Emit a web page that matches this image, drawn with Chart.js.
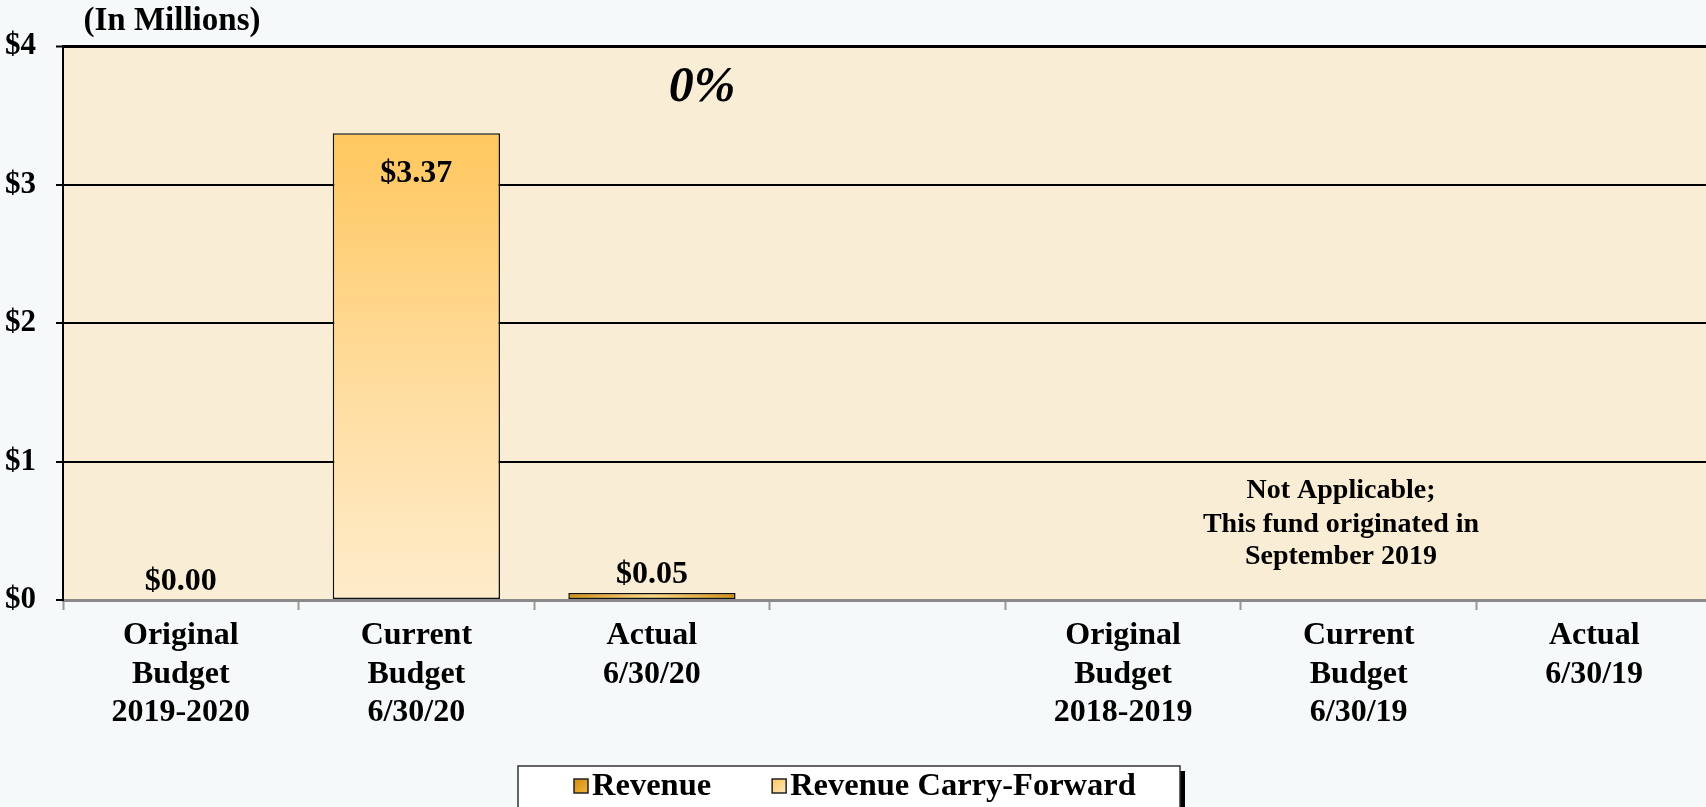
<!DOCTYPE html>
<html><head><meta charset="utf-8">
<script src="https://cdn.jsdelivr.net/npm/chart.js@4"></script>
<style>
html,body{margin:0;padding:0;background:#F5F9FA;overflow:hidden;width:1706px;height:807px;}
#wrap{position:absolute;left:0;top:0;width:1712px;height:807px;}
</style></head><body>
<div id="wrap"><canvas id="c" width="1712" height="807"></canvas></div>
<script>
const categories = [["Original","Budget","2019-2020"],["Current","Budget","6/30/20"],["Actual","6/30/20"],"",["Original","Budget","2018-2019"],["Current","Budget","6/30/19"],["Actual","6/30/19"]];
const revenue = [0, 0, 0.05, null, null, null, null];
const carryForward = [0, 3.37, 0, null, null, null, null];
const yTickValues = [0, 1, 2, 3, 4];
const yTickLabels = ["$0", "$1", "$2", "$3", "$4"];
const seriesNames = ["Revenue", "Revenue Carry-Forward"];
const unitNote = "(In Millions)";
const pctNote = "0%";
const naNote = ["Not Applicable;", "This fund originated in", "September 2019"];

const SERIF = '"Liberation Serif","Times New Roman",serif';
const BAR_PCT = 0.71;

function carryBg(ctx){
  const chart = ctx.chart, ca = chart.chartArea, sc = chart.scales;
  if (!ca || !sc.y) return '#FFD27A';
  const v = ctx.raw || 0;
  const top = sc.y.getPixelForValue(v), bottom = sc.y.getPixelForValue(0);
  if (bottom - top < 1) return '#FFD27A';
  const g = chart.ctx.createLinearGradient(0, top, 0, bottom);
  g.addColorStop(0, '#FFC75E');
  g.addColorStop(0.55, '#FFDDA0');
  g.addColorStop(1, '#FFECCB');
  return g;
}
function revBg(ctx){
  const chart = ctx.chart, ca = chart.chartArea, sc = chart.scales;
  if (!ca || !sc.x) return '#E8A22A';
  const cx = sc.x.getPixelForValue(ctx.dataIndex);
  const w = (sc.x.width / categories.length) * BAR_PCT / 2;
  const g = chart.ctx.createLinearGradient(cx - w, 0, cx + w, 0);
  g.addColorStop(0, '#D28D0A');
  g.addColorStop(0.5, '#FFD884');
  g.addColorStop(1, '#D28D0A');
  return g;
}

const bgPlugin = {
  id: 'bgPlugin',
  beforeDraw(chart){
    const {ctx, chartArea: a} = chart;
    ctx.save();
    ctx.fillStyle = '#F5F9FA';
    ctx.fillRect(0, 0, chart.width, chart.height);
    ctx.fillStyle = '#F9EDD5';
    ctx.fillRect(a.left, a.top, a.right - a.left, a.bottom - a.top);
    ctx.restore();
  }
};

const textPlugin = {
  id: 'textPlugin',
  afterDatasetsDraw(chart){
    const {ctx, scales: {x, y}} = chart;
    ctx.save();
    ctx.fillStyle = '#000';
    ctx.textAlign = 'center';
    ctx.textBaseline = 'alphabetic';
    ctx.font = 'bold 32px ' + SERIF;
    for (let i = 0; i < categories.length; i++) {
      if (revenue[i] === null && carryForward[i] === null) continue;
      const total = (revenue[i] || 0) + (carryForward[i] || 0);
      const top = y.getPixelForValue(total);
      const cx = x.getPixelForValue(i);
      const label = '$' + total.toFixed(2);
      if (total > 1) ctx.fillText(label, cx, top + 49);
      else ctx.fillText(label, cx, top - 10);
    }
    // unit note
    ctx.font = 'bold 33px ' + SERIF;
    ctx.fillText(unitNote, 172, 30);
    // percent note
    ctx.font = 'italic bold 50px ' + SERIF;
    ctx.fillText(pctNote, 702, 101);
    // not applicable
    ctx.font = 'bold 28px ' + SERIF;
    const nx = 1341;
    [498, 532, 564].forEach((by, k) => ctx.fillText(naNote[k], nx, by));
    ctx.restore();
  },
  afterDraw(chart){
    const {ctx} = chart;
    ctx.save();
    // legend box
    const bx = 518, by = 766, bw = 662, bh = 50;
    ctx.fillStyle = '#000';
    ctx.fillRect(bx + 5, by + 5, bw, bh);
    ctx.fillStyle = '#FFFFFF';
    ctx.fillRect(bx, by, bw, bh);
    ctx.strokeStyle = '#333';
    ctx.lineWidth = 1.5;
    ctx.strokeRect(bx, by, bw, bh);
    ctx.font = 'bold 32.5px ' + SERIF;
    ctx.textAlign = 'left';
    ctx.textBaseline = 'alphabetic';
    let sx = 574;
    const fills = [['#D28D0A', '#F2B440'], ['#FFC75E', '#FFE8BC']];
    seriesNames.forEach((name, k) => {
      const g = ctx.createLinearGradient(sx, 779, sx + 14, 793);
      g.addColorStop(0, fills[k][0]); g.addColorStop(1, fills[k][1]);
      ctx.fillStyle = g;
      ctx.fillRect(sx, 779, 14, 14);
      ctx.strokeStyle = '#222'; ctx.lineWidth = 1.5;
      ctx.strokeRect(sx, 779, 14, 14);
      ctx.fillStyle = '#000';
      ctx.fillText(name, sx + 18, 795);
      sx += 18 + ctx.measureText(name).width + 61;
    });
    ctx.restore();
  }
};

new Chart(document.getElementById('c'), {
  type: 'bar',
  data: {
    labels: categories,
    datasets: [
      { label: seriesNames[0], data: revenue, backgroundColor: revBg,
        borderColor: '#111', borderWidth: c => c.raw ? 1.5 : 0, borderSkipped: false,
        barPercentage: BAR_PCT, categoryPercentage: 1 },
      { label: seriesNames[1], data: carryForward, backgroundColor: carryBg,
        borderColor: '#111', borderWidth: c => c.raw ? 1.5 : 0, borderSkipped: false,
        barPercentage: BAR_PCT, categoryPercentage: 1 }
    ]
  },
  options: {
    responsive: false,
    animation: false,
    devicePixelRatio: 1,
    layout: { padding: { top: 46, bottom: 67, left: 0, right: 0 } },
    plugins: { legend: { display: false }, tooltip: { enabled: false } },
    scales: {
      x: {
        stacked: true,
        afterFit: s => { s.height = 140; },
        border: { display: true, color: '#8A8A8A', width: 3 },
        grid: { display: true, drawOnChartArea: false, drawTicks: true, tickLength: 10,
                tickColor: '#999', tickWidth: 2, offset: true },
        ticks: { color: '#000', padding: 7, maxRotation: 0, autoSkip: false,
                 font: { family: SERIF, size: 32, weight: 'bold', lineHeight: 1.2 } }
      },
      y: {
        stacked: true, min: 0, max: 4,
        afterFit: s => { s.width = 63; },
        afterBuildTicks: s => { s.ticks = yTickValues.map(v => ({ value: v })); },
        border: { display: true, color: '#000', width: 2 },
        grid: { color: c => c.tick && c.tick.value === 0 ? 'rgba(0,0,0,0)' : '#000',
                lineWidth: c => c.tick && c.tick.value === 4 ? 3 : 2,
                tickColor: '#000', tickLength: 7, tickWidth: 2 },
        ticks: { color: '#000', padding: 20,
                 callback: (v) => yTickLabels[yTickValues.indexOf(v)],
                 font: { family: SERIF, size: 31, weight: 'bold' } }
      }
    }
  },
  plugins: [bgPlugin, textPlugin]
});
</script>
</body></html>
